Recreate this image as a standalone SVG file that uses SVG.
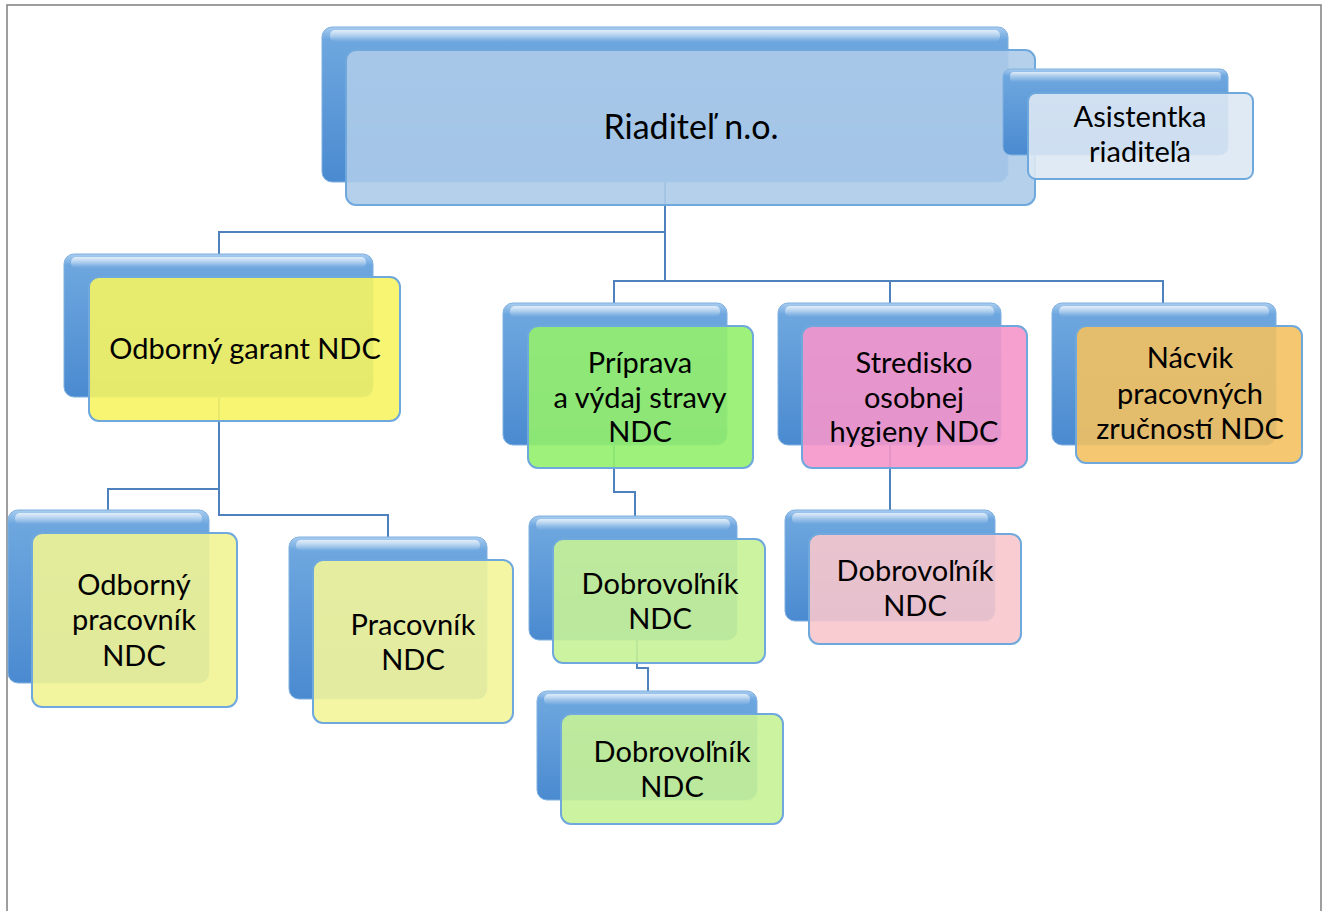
<svg xmlns="http://www.w3.org/2000/svg" width="1328" height="911" viewBox="0 0 1328 911">
<style>
.bg{fill:#ffffff}
.frame{fill:none;stroke:#7f7f7f;stroke-width:1.5}
.back{fill:url(#gBack);stroke:#7fb0e0;stroke-width:1}
.hl{fill:url(#gHl)}
.front{stroke:#6fa8dc;stroke-width:2;fill-opacity:0.9}
.conn{fill:none;stroke:#4f81bd;stroke-width:2}
text{font-family:Lato,"Noto Sans","Liberation Sans",sans-serif;font-size:29px;fill:#000;text-anchor:middle}
text.big{font-size:34px}
</style>
<defs>
<linearGradient id="gBack" x1="0" y1="0" x2="0" y2="1">
<stop offset="0" stop-color="#a9cdf0"/>
<stop offset="0.08" stop-color="#6ea7df"/>
<stop offset="1" stop-color="#4a8ad0"/>
</linearGradient>
<linearGradient id="gHl" x1="0" y1="0" x2="0" y2="1">
<stop offset="0" stop-color="#ffffff" stop-opacity="0.7"/>
<stop offset="1" stop-color="#ffffff" stop-opacity="0"/>
</linearGradient>
</defs>
<rect class="bg" x="0" y="0" width="1328" height="911"/>
<path class="frame" d="M7,920 V5 H1321 V920"/>

<g id="connectors">
<path class="conn" d="M665,181 V281"/>
<path class="conn" d="M665,232 H219 V254"/>
<path class="conn" d="M614,303 V281 H1163 V303"/>
<path class="conn" d="M890,281 V303"/>
<path class="conn" d="M219,397 V515 H388 V537"/>
<path class="conn" d="M219,489 H108 V510"/>
<path class="conn" d="M614,445 V492 H635 V516"/>
<path class="conn" d="M637,640 V668 H648 V691"/>
<path class="conn" d="M890,445 V510"/>
</g>

<g id="n-riaditel">
<rect class="back" x="322" y="27" width="686" height="155" rx="10"/>
<rect class="hl" x="330" y="30" width="670" height="12" rx="5"/>
<rect class="front" x="346" y="50" width="689" height="155" rx="10" fill="#adcbe9"/>
<text class="big" x="691" y="139">Riaditeľ n.o.</text>
</g>

<g id="n-asistentka">
<rect class="back" x="1003" y="69" width="225" height="86" rx="8"/>
<rect class="hl" x="1010" y="72" width="211" height="10" rx="4"/>
<rect class="front" x="1028" y="93" width="225" height="86" rx="8" fill="#dde8f4"/>
<text x="1140" y="127">Asistentka</text>
<text x="1140" y="162">riaditeľa</text>
</g>

<g id="n-garant">
<rect class="back" x="64" y="254" width="309" height="143" rx="10"/>
<rect class="hl" x="71" y="257" width="295" height="11" rx="5"/>
<rect class="front" x="89" y="277" width="311" height="144" rx="10" fill="#f6f462"/>
<text x="245" y="359">Odborný garant NDC</text>
</g>

<g id="n-priprava">
<rect class="back" x="503" y="303" width="224" height="142" rx="10"/>
<rect class="hl" x="510" y="306" width="210" height="11" rx="5"/>
<rect class="front" x="528" y="326" width="225" height="142" rx="10" fill="#93f06c"/>
<text x="640" y="373">Príprava</text>
<text x="640" y="408">a výdaj stravy</text>
<text x="640" y="442">NDC</text>
</g>

<g id="n-stredisko">
<rect class="back" x="778" y="303" width="223" height="142" rx="10"/>
<rect class="hl" x="785" y="306" width="209" height="11" rx="5"/>
<rect class="front" x="802" y="326" width="225" height="142" rx="10" fill="#f596cb"/>
<text x="914" y="373">Stredisko</text>
<text x="914" y="408">osobnej</text>
<text x="914" y="442">hygieny NDC</text>
</g>

<g id="n-nacvik">
<rect class="back" x="1052" y="303" width="224" height="142" rx="10"/>
<rect class="hl" x="1059" y="306" width="210" height="11" rx="5"/>
<rect class="front" x="1076" y="326" width="226" height="137" rx="10" fill="#f3c160"/>
<text x="1190" y="368">Nácvik</text>
<text x="1190" y="404">pracovných</text>
<text x="1190" y="439">zručností NDC</text>
</g>

<g id="n-odb-pracovnik">
<rect class="back" x="8" y="510" width="201" height="173" rx="10"/>
<rect class="hl" x="15" y="513" width="187" height="11" rx="5"/>
<rect class="front" x="32" y="533" width="205" height="174" rx="10" fill="#f1f494"/>
<text x="134" y="595">Odborný</text>
<text x="134" y="630">pracovník</text>
<text x="134" y="666">NDC</text>
</g>

<g id="n-pracovnik">
<rect class="back" x="289" y="537" width="198" height="162" rx="10"/>
<rect class="hl" x="296" y="540" width="184" height="11" rx="5"/>
<rect class="front" x="313" y="560" width="200" height="163" rx="10" fill="#f3f59a"/>
<text x="413" y="635">Pracovník</text>
<text x="413" y="670">NDC</text>
</g>

<g id="n-dobrovolnik1">
<rect class="back" x="529" y="516" width="208" height="124" rx="10"/>
<rect class="hl" x="536" y="519" width="194" height="11" rx="5"/>
<rect class="front" x="553" y="539" width="212" height="124" rx="10" fill="#c6f296"/>
<text x="660" y="594">Dobrovoľník</text>
<text x="660" y="629">NDC</text>
</g>

<g id="n-dobrovolnik2">
<rect class="back" x="537" y="691" width="220" height="109" rx="10"/>
<rect class="hl" x="544" y="694" width="206" height="11" rx="5"/>
<rect class="front" x="561" y="714" width="222" height="110" rx="10" fill="#c6f296"/>
<text x="672" y="762">Dobrovoľník</text>
<text x="672" y="797">NDC</text>
</g>

<g id="n-dobrovolnik3">
<rect class="back" x="785" y="510" width="210" height="111" rx="10"/>
<rect class="hl" x="792" y="513" width="196" height="11" rx="5"/>
<rect class="front" x="809" y="534" width="212" height="110" rx="10" fill="#f7c6cc"/>
<text x="915" y="581">Dobrovoľník</text>
<text x="915" y="616">NDC</text>
</g>
</svg>
